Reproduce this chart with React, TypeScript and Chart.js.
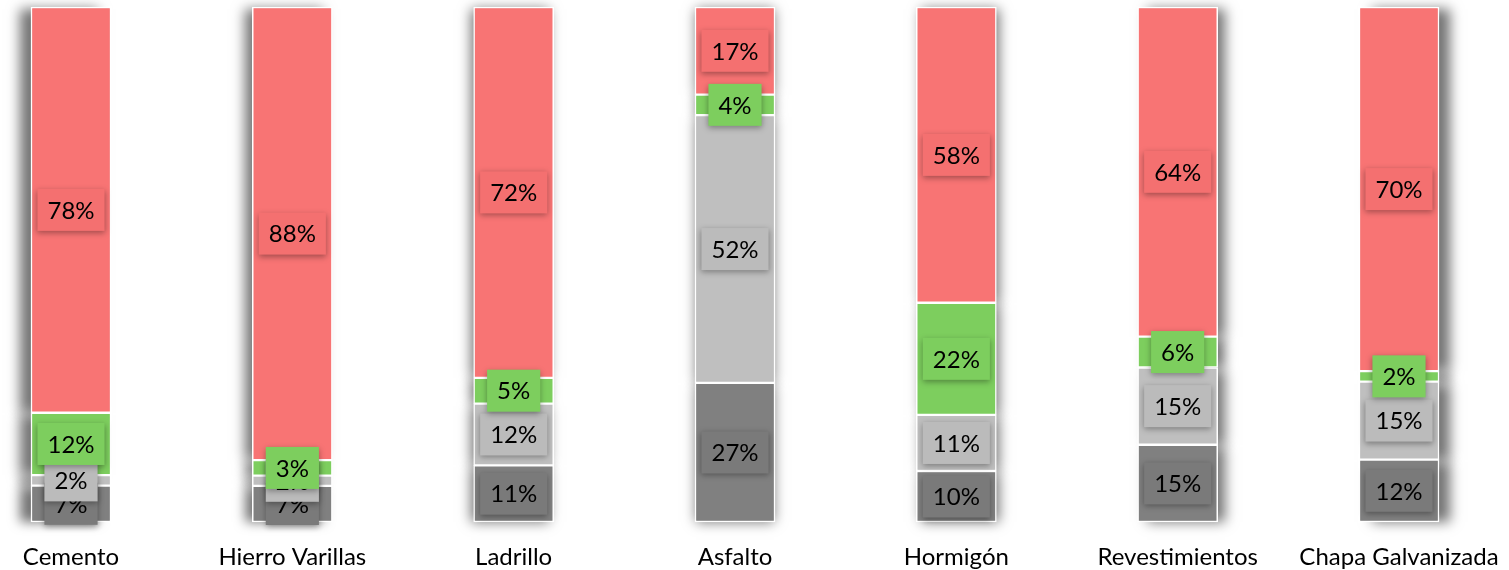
import React, { useEffect, useRef } from 'react';
import { Chart, registerables } from 'chart.js';

Chart.register(...registerables);

const categories = ['Cemento', 'Hierro Varillas', 'Ladrillo', 'Asfalto', 'Hormigón', 'Revestimientos', 'Chapa Galvanizada'];
const darkGray = [7, 7, 11, 27, 10, 15, 12];
const lightGray = [2, 2, 12, 52, 11, 15, 15];
const green = [12, 3, 5, 4, 22, 6, 2];
const red = [78, 88, 72, 17, 58, 64, 70];

const seriesValues = [darkGray, lightGray, green, red];
const seriesColors = ['#808080', '#BFBFBF', '#7DCE5E', '#F87474'];
const labelBoxColors = ['#7A7A7A', '#BBBBBB', '#7DCE5E', '#F47070'];

const totals = categories.map((_, i) => seriesValues.reduce((s, arr) => s + arr[i], 0));

const FONT = 'Lato, "Open Sans", sans-serif';

const shadowPlugin = {
  id: 'barShadow',
  beforeDatasetsDraw(chart: any) {
    const ctx = chart.ctx;
    const area = chart.chartArea;
    const cx = (area.left + area.right) / 2;
    chart.data.datasets.forEach((_: any, di: number) => {
      const meta = chart.getDatasetMeta(di);
      meta.data.forEach((el: any) => {
        const p = el.getProps(['x', 'y', 'base', 'width'], true);
        const top = Math.min(p.y, p.base);
        const h = Math.abs(p.base - p.y);
        ctx.save();
        ctx.shadowColor = 'rgba(0,0,0,0.55)';
        ctx.shadowBlur = 12;
        ctx.shadowOffsetX = (p.x - cx) * 0.018;
        ctx.shadowOffsetY = 1;
        ctx.fillStyle = '#999999';
        ctx.fillRect(p.x - p.width / 2 + 1, top + 1, p.width - 2, h - 2);
        ctx.restore();
      });
    });
  },
};

const labelPlugin = {
  id: 'boxLabels',
  afterDatasetsDraw(chart: any) {
    const ctx = chart.ctx;
    ctx.save();
    ctx.font = `24px ${FONT}`;
    ctx.textAlign = 'center';
    ctx.textBaseline = 'middle';
    chart.data.datasets.forEach((ds: any, di: number) => {
      const meta = chart.getDatasetMeta(di);
      meta.data.forEach((el: any, i: number) => {
        const p = el.getProps(['x', 'y', 'base'], true);
        const cy = (p.y + p.base) / 2;
        const text = `${seriesValues[di][i]}%`;
        const tw = ctx.measureText(text).width;
        const w = tw + 20;
        const h = 42;
        ctx.save();
        ctx.shadowColor = 'rgba(0,0,0,0.35)';
        ctx.shadowBlur = 6;
        ctx.shadowOffsetY = 2;
        ctx.fillStyle = labelBoxColors[di];
        ctx.fillRect(p.x - w / 2, cy - h / 2, w, h);
        ctx.restore();
        ctx.fillStyle = '#000000';
        ctx.fillText(text, p.x, cy + 1);
      });
    });
    ctx.restore();
  },
};

export default function App() {
  const ref = useRef<HTMLCanvasElement | null>(null);

  useEffect(() => {
    if (!ref.current) return;
    const chart = new Chart(ref.current, {
      type: 'bar',
      data: {
        labels: categories,
        datasets: seriesValues.map((vals, di) => ({
          label: String(di),
          data: vals.map((v, i) => (v / totals[i]) * 100),
          backgroundColor: seriesColors[di],
          borderColor: '#FFFFFF',
          borderWidth: 1.5,
          borderSkipped: false,
          barThickness: 80,
          clip: false,
        })),
      },
      options: {
        animation: false,
        responsive: false,
        maintainAspectRatio: false,
        layout: { padding: { left: 71, right: 110, top: 7, bottom: 0 } },
        plugins: {
          legend: { display: false },
          tooltip: { enabled: false },
        },
        scales: {
          x: {
            stacked: true,
            offset: false,
            grid: { display: false, drawTicks: false },
            border: { display: false },
            afterFit: (scale: any) => {
              scale.height = 48;
              scale.paddingLeft = 0;
              scale.paddingRight = 0;
            },
            ticks: {
              color: '#000000',
              font: { family: FONT, size: 24 },
              padding: 21,
              maxRotation: 0,
              autoSkip: false,
            },
          },
          y: {
            stacked: true,
            display: false,
            min: 0,
            max: 100,
          },
        },
      },
      plugins: [shadowPlugin, labelPlugin],
    });
    return () => chart.destroy();
  }, []);

  return (
    <div style={{ position: 'absolute', left: 0, top: 0, width: 1509, height: 570 }}>
      <canvas ref={ref} width={1509} height={570} style={{ display: 'block' }} />
    </div>
  );
}
